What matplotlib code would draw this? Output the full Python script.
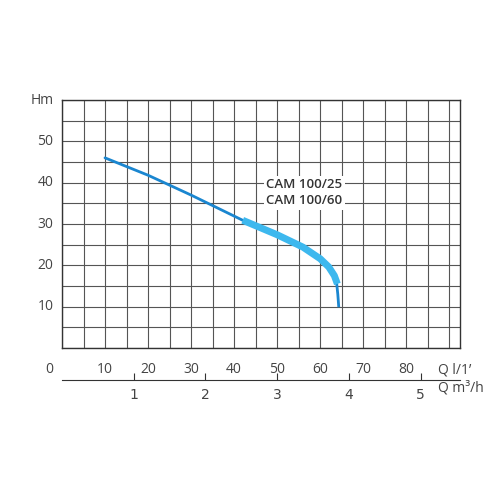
import matplotlib.pyplot as plt
import numpy as np

# curve points (Q l/min, H m)
thin_q = [10, 20, 30, 42]
thin_h = [46.0, 41.8, 37.0, 30.9]
thick_q = [42, 50, 56, 60, 62, 63.3, 64.0]
thick_h = [30.9, 27.4, 24.4, 21.6, 19.6, 17.5, 15.5]
tail_q = [63.8, 64.1, 64.3]
tail_h = [16.0, 13.0, 10.2]

q_ticks = [10, 20, 30, 40, 50, 60, 70, 80]
h_ticks = [10, 20, 30, 40, 50]
m3_ticks = [1, 2, 3, 4, 5]

fig = plt.figure(figsize=(5, 5), dpi=100)
ax = fig.add_axes([0.124, 0.304, 0.796, 0.496])
ax.set_xlim(0, 92.5)
ax.set_ylim(0, 60)
ax.set_xticks(np.arange(0, 92.6, 5))
ax.set_yticks(np.arange(0, 61, 5))
ax.grid(True, color='#555555', linewidth=0.8)
ax.tick_params(length=0, labelbottom=False, labelleft=False)
for s in ax.spines.values():
    s.set_color('#333333')
    s.set_linewidth(1)

ax.plot(thin_q, thin_h, color='#1a86d0', lw=2, solid_capstyle='round')
ax.plot(tail_q, tail_h, color='#1a86d0', lw=2)
ax.plot(thick_q, thick_h, color='#3db8ee', lw=5, solid_capstyle='butt')

txt = dict(fontsize=10, color='#444444', family='Open Sans')
for t in q_ticks:
    ax.text(t, -3.5, str(t), ha='center', va='top', **txt)
ax.text(-3, -3.5, '0', ha='center', va='top', **txt)
for t in h_ticks:
    ax.text(-2, t, str(t), ha='right', va='center', **txt)
ax.text(-2, 60, 'Hm', ha='right', va='center', **txt)
ax.text(87.5, -3.5, 'Q l/1\u2019', ha='left', va='top', **txt)
ax.text(47.5, 37.5, 'CAM 100/25\nCAM 100/60', ha='left', va='center',
        fontsize=9.5, fontweight='semibold', color='#333333', family='Open Sans',
        linespacing=1.3, bbox=dict(facecolor='white', edgecolor='none', pad=2))

ax2 = fig.add_axes([0.124, 0.24, 0.796, 0.0001])
ax2.set_xlim(0, 92.5 / 16.667)
ax2.set_yticks([])
for k in ['left', 'right', 'top']:
    ax2.spines[k].set_visible(False)
ax2.spines['bottom'].set_color('#333333')
ax2.set_xticks(m3_ticks)
ax2.tick_params(axis='x', direction='in', length=5, colors='#333333', labelcolor='#444444', labelsize=10, pad=6)
ax2.text(87.5 / 16.667, -0.02, 'Q m\u00b3/h', ha='left', va='top', transform=ax2.get_xaxis_transform(),
         fontsize=10, color='#444444', family='Open Sans')
fig.text(87.5 / 92.5 * 0.796 + 0.124, 0.22, 'Q m\u00b3/h', ha='left', va='top', alpha=0)

fig.savefig('out.png', dpi=100)
